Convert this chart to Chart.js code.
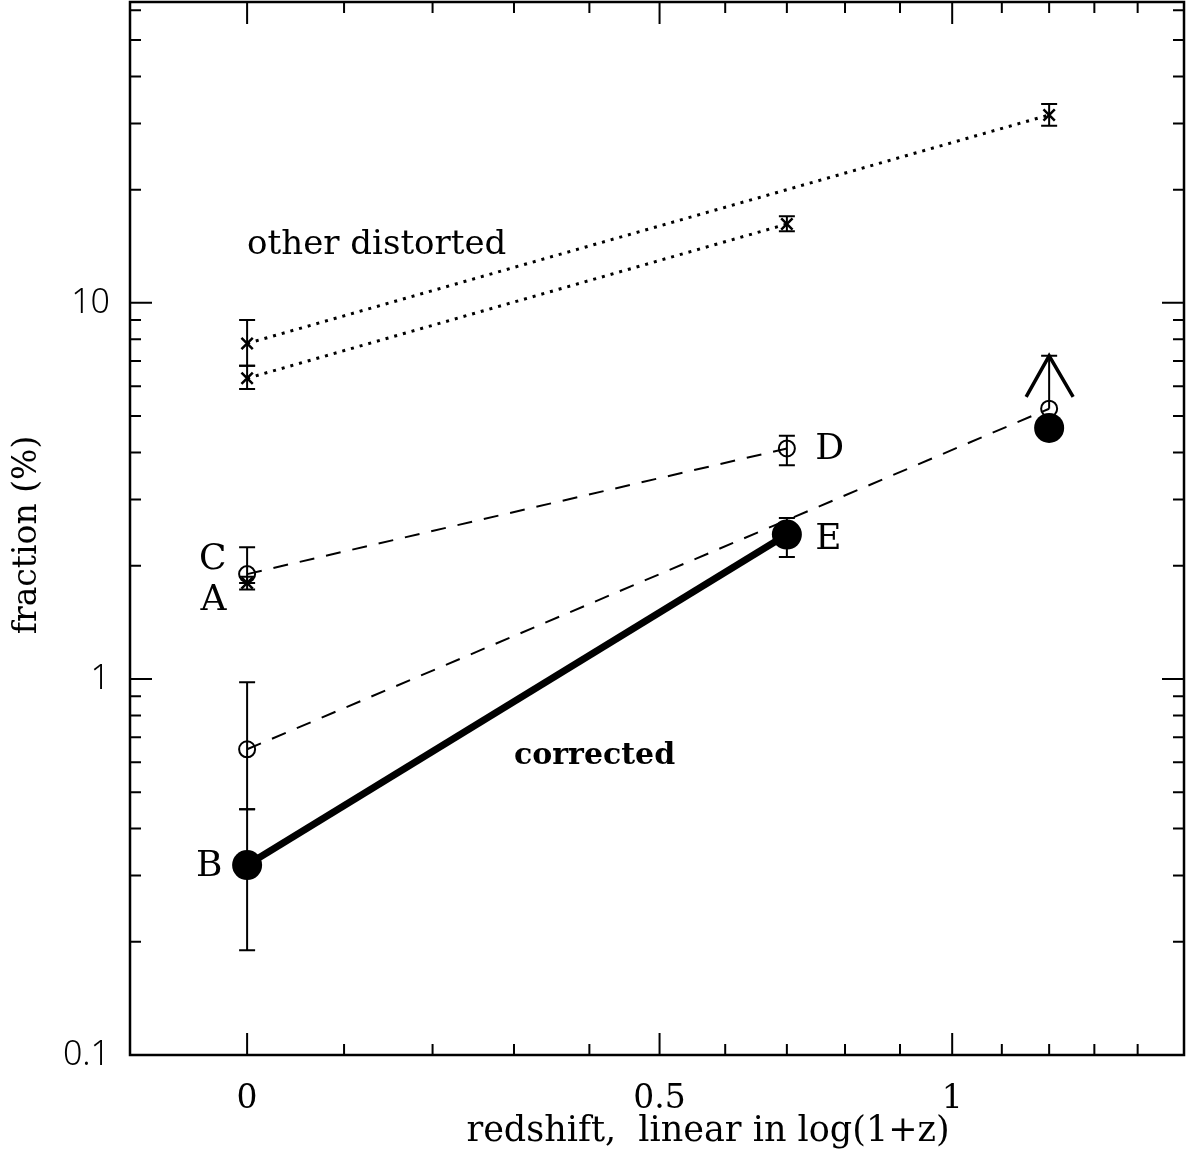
<!DOCTYPE html>
<html>
<head>
<meta charset="utf-8">
<script src="https://cdn.jsdelivr.net/npm/chart.js@4.4.0/dist/chart.umd.min.js"></script>
<style>
  body { margin: 0; background: #fff; }
  #container { width: 1189px; height: 1151px; }
</style>
</head>
<body>
<div id="container"><canvas id="myChart"></canvas></div>
<script>
// fractions in %, placed at redshift z (axis is linear in log(1+z))
const zOtherA = [0, 1.2]
const otherA = [7.8, 31.6]
const otherALo = [6.8, 29.6]
const otherAHi = [9.0, 33.8]

const zOtherB = [0, 0.7]
const otherB = [6.3, 16.2]
const otherBLo = [5.9, 15.5]
const otherBHi = [6.8, 17.0]

const zCD = [0, 0.7]
const fracCD = [1.9, 4.1]
const fracCDLo = [1.8, 3.7]
const fracCDHi = [2.24, 4.43]

const zA = [0]
const fracA = [1.8]
const fracALo = [1.73]
const fracAHi = [1.87]

const zOpen = [0, 1.2]
const fracOpen = [0.65, 5.23]
const fracOpenLo = [0.45, null]
const fracOpenHi = [0.98, null]

// lower limit drawn as an arrow
const zLimit = [1.2]
const limitFrom = [5.23]
const limitTo = [7.23]

const zCorr = [0, 0.7, 1.2]
const fracCorr = [0.32, 2.42, 4.65]
const fracCorrLo = [0.19, 2.11, null]
const fracCorrHi = [0.45, 2.68, null]

const zMajor = [0, 0.5, 1]
const zMajorLabels = ['0', '0.5', '1']
const zMinor = [0.1, 0.2, 0.3, 0.4, 0.6, 0.7, 0.8, 0.9, 1.1, 1.2, 1.3, 1.4]
const yMajor = [0.1, 1, 10]
const yMajorLabels = ['0.1', '1', '10']
const yMinor = [0.2, 0.3, 0.4, 0.5, 0.6, 0.7, 0.8, 0.9, 2, 3, 4, 5, 6, 7, 8, 9, 20, 30, 40, 50, 60]

const textLabels = [
  { text: 'other distorted', z: 0, v: 14.2, align: 'left', font: '34px "DejaVu Serif"' },
  { text: 'corrected', z: 0.3, v: 0.624, align: 'left', font: 'bold 30px "DejaVu Serif"' },
  { text: 'C', z: -0.02, v: 2.07, align: 'right', font: '36px "DejaVu Serif"' },
  { text: 'A', z: -0.02, v: 1.62, align: 'right', font: '36px "DejaVu Serif"' },
  { text: 'B', z: -0.024, v: 0.316, align: 'right', font: '36px "DejaVu Serif"' },
  { text: 'D', z: 0.748, v: 4.06, align: 'left', font: '36px "DejaVu Serif"' },
  { text: 'E', z: 0.748, v: 2.34, align: 'left', font: '36px "DejaVu Serif"' },
]

const lg = z => Math.log10(1 + z)
const pts = (zs, vs) => zs.map((z, i) => ({ x: lg(z), y: vs[i] }))

const errorSets = [
  [zOtherA, otherALo, otherAHi],
  [zOtherB, otherBLo, otherBHi],
  [zCD, fracCDLo, fracCDHi],
  [zA, fracALo, fracAHi],
  [zOpen, fracOpenLo, fracOpenHi],
  [zCorr, fracCorrLo, fracCorrHi],
]

const extras = {
  id: 'extras',
  afterDatasetsDraw(chart) {
    const ctx = chart.ctx
    const xs = chart.scales.x, ys = chart.scales.y
    ctx.save()
    ctx.strokeStyle = '#000'
    ctx.lineWidth = 2
    // error bars
    errorSets.forEach(([zs, lo, hi]) => {
      zs.forEach((z, i) => {
        if (lo[i] == null) return
        const x = xs.getPixelForValue(lg(z))
        const y1 = ys.getPixelForValue(lo[i]), y2 = ys.getPixelForValue(hi[i])
        ctx.beginPath()
        ctx.moveTo(x, y1); ctx.lineTo(x, y2)
        ctx.moveTo(x - 8, y1); ctx.lineTo(x + 8, y1)
        ctx.moveTo(x - 8, y2); ctx.lineTo(x + 8, y2)
        ctx.stroke()
      })
    })
    // lower limit arrow
    zLimit.forEach((z, i) => {
      const x = xs.getPixelForValue(lg(z))
      const y1 = ys.getPixelForValue(limitFrom[i]), y2 = ys.getPixelForValue(limitTo[i])
      ctx.lineWidth = 2
      ctx.beginPath()
      ctx.moveTo(x, y1); ctx.lineTo(x, y2)
      ctx.moveTo(x - 8, y2); ctx.lineTo(x + 8, y2)
      ctx.stroke()
      ctx.lineWidth = 3.5
      ctx.beginPath()
      ctx.moveTo(x - 23, y2 + 41); ctx.lineTo(x, y2); ctx.lineTo(x + 24, y2 + 41)
      ctx.stroke()
    })
    // text
    ctx.fillStyle = '#000'
    ctx.textBaseline = 'middle'
    textLabels.forEach(t => {
      ctx.font = t.font
      ctx.textAlign = t.align
      ctx.fillText(t.text, xs.getPixelForValue(lg(t.z)), ys.getPixelForValue(t.v))
    })
    ctx.restore()
  },
  afterDraw(chart) {
    const ctx = chart.ctx
    const { left, right, top, bottom } = chart.chartArea
    const xs = chart.scales.x, ys = chart.scales.y
    ctx.save()
    ctx.strokeStyle = '#000'
    ctx.lineWidth = 2
    const tickX = (z, len) => {
      const x = xs.getPixelForValue(lg(z))
      ctx.moveTo(x, bottom); ctx.lineTo(x, bottom - len)
      ctx.moveTo(x, top); ctx.lineTo(x, top + len)
    }
    const tickY = (v, len) => {
      const y = ys.getPixelForValue(v)
      ctx.moveTo(left, y); ctx.lineTo(left + len, y)
      ctx.moveTo(right, y); ctx.lineTo(right - len, y)
    }
    ctx.beginPath()
    zMajor.forEach(z => tickX(z, 22))
    zMinor.forEach(z => tickX(z, 11))
    yMajor.forEach(v => tickY(v, 22))
    yMinor.forEach(v => tickY(v, 11))
    ctx.stroke()
    ctx.lineWidth = 2.5
    ctx.strokeRect(left, top, right - left, bottom - top)

    // axis titles
    ctx.fillStyle = '#000'
    ctx.font = '35px "DejaVu Serif"'
    ctx.textAlign = 'center'
    ctx.textBaseline = 'middle'
    ctx.fillText('redshift,  linear in log(1+z)', 708, 1132)
    ctx.translate(27, 535)
    ctx.rotate(-Math.PI / 2)
    ctx.font = '33px "DejaVu Serif"'
    ctx.fillText('fraction (%)', 0, 0)
    ctx.restore()
  }
}

const noPad = s => { s.paddingTop = 0; s.paddingBottom = 0; s.paddingLeft = 0; s.paddingRight = 0 }

const myChart = document.getElementById('myChart').getContext('2d')

new Chart(myChart, {
  type: 'line',
  data: {
    datasets: [
      {
        data: pts(zCorr, fracCorr),
        borderColor: '#000', borderWidth: 7,
        segment: { borderColor: c => c.p1DataIndex === 2 ? 'rgba(0,0,0,0)' : '#000' },
        pointStyle: 'circle', pointRadius: 15, pointBackgroundColor: '#000', pointBorderWidth: 0,
      },
      {
        data: pts(zOpen, fracOpen),
        borderColor: '#000', borderWidth: 2, borderDash: [15, 12],
        pointStyle: 'circle', pointRadius: 8, pointBackgroundColor: 'rgba(0,0,0,0)',
        pointBorderColor: '#000', pointBorderWidth: 2,
      },
      {
        data: pts(zCD, fracCD),
        borderColor: '#000', borderWidth: 2, borderDash: [15, 12],
        pointStyle: 'circle', pointRadius: 8, pointBackgroundColor: 'rgba(0,0,0,0)',
        pointBorderColor: '#000', pointBorderWidth: 2,
      },
      {
        data: pts(zA, fracA), showLine: false,
        pointStyle: 'crossRot', pointRadius: 8, pointBorderColor: '#000', pointBorderWidth: 2.5,
      },
      {
        data: pts(zOtherA, otherA),
        borderColor: '#000', borderWidth: 3, borderDash: [3, 6],
        pointStyle: 'crossRot', pointRadius: 8, pointBorderColor: '#000', pointBorderWidth: 2.5,
      },
      {
        data: pts(zOtherB, otherB),
        borderColor: '#000', borderWidth: 3, borderDash: [3, 6],
        pointStyle: 'crossRot', pointRadius: 8, pointBorderColor: '#000', pointBorderWidth: 2.5,
      },
    ]
  },
  options: {
    responsive: true,
    maintainAspectRatio: false,
    animation: false,
    layout: { autoPadding: false, padding: { top: 2, right: 5, left: 0, bottom: 0 } },
    plugins: { legend: { display: false }, tooltip: { enabled: false } },
    scales: {
      x: {
        type: 'linear', min: -0.05, max: 0.4,
        grid: { display: false, drawTicks: false },
        border: { display: false },
        afterBuildTicks: s => { s.ticks = zMajor.map(z => ({ value: lg(z) })) },
        afterFit: s => { s.height = 96; noPad(s) },
        ticks: {
          autoSkip: false, maxRotation: 0, padding: 25, color: '#000',
          font: { family: 'DejaVu Serif', size: 33 },
          callback: (v, i) => zMajorLabels[i]
        }
      },
      y: {
        type: 'logarithmic', min: 0.1, max: 63.1,
        grid: { display: false, drawTicks: false },
        border: { display: false },
        afterBuildTicks: s => { s.ticks = yMajor.map(v => ({ value: v })) },
        afterFit: s => { s.width = 130; noPad(s) },
        ticks: {
          padding: 20, color: '#000',
          font: { family: 'Noto Sans', size: 34, weight: '300' },
          callback: (v, i) => yMajorLabels[i]
        }
      }
    }
  },
  plugins: [extras]
})
</script>
</body>
</html>
